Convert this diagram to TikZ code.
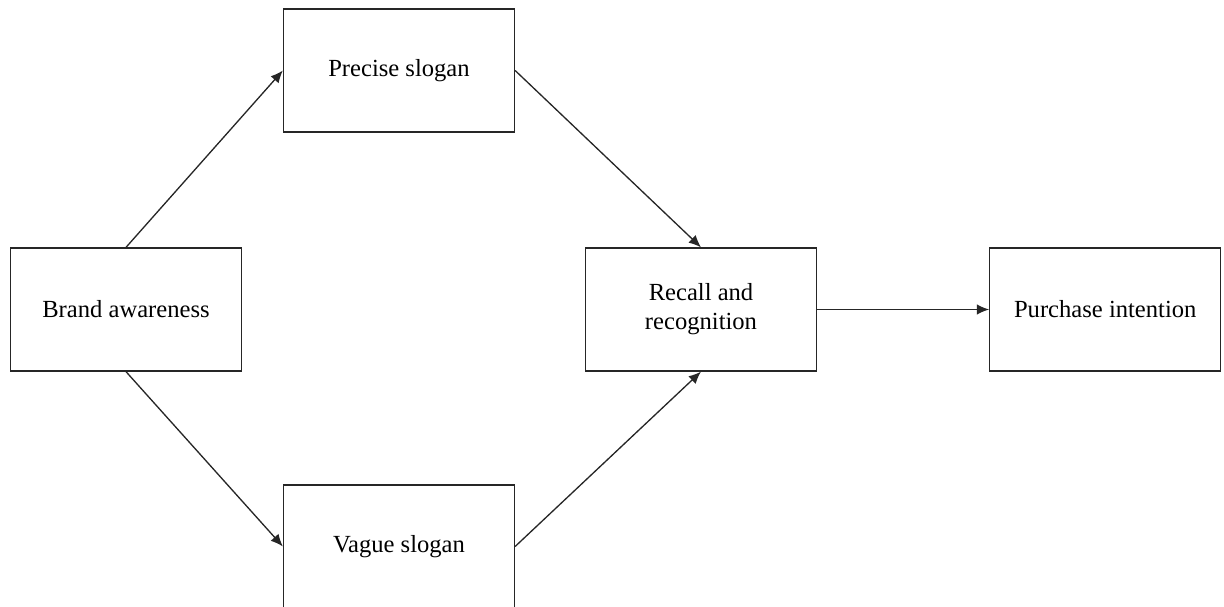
\documentclass[tikz,border=0pt]{standalone}
\usepackage{fontspec}
\setmainfont{Liberation Serif}
\usetikzlibrary{arrows.meta, positioning}

\begin{document}
\begin{tikzpicture}[x=0.02cm, y=-0.02cm,
    every node/.style={font=\fontsize{14}{16.5}\selectfont},
    >={Latex[length=7pt, width=6pt]},
    box/.style={rectangle, draw=black!85, line width=0.75pt, align=center, minimum width=4.62cm, minimum height=2.46cm},
    line/.style={draw=black!85, ->, line width=0.75pt}]

\useasboundingbox (0,0) rectangle (1224,607);

% Boxes
\node[box] (brand) at (126,309.5) {Brand awareness};
\node[box] (precise) at (399,70.5) {Precise slogan};
\node[box] (vague) at (399,546.5) {Vague slogan};
\node[box] (recall) at (701,309.5) {Recall and\\recognition};
\node[box, right=3.44cm of recall] (purchase) {Purchase intention};

% Paths
\draw [line] (brand.north) -- (precise.west);
\draw [line] (brand.south) -- (vague.west);
\draw [line] (precise.east) -- (recall.north);
\draw [line] (vague.east) -- (recall.south);
\draw [line] (recall) -- (purchase);

\end{tikzpicture}
\end{document}
